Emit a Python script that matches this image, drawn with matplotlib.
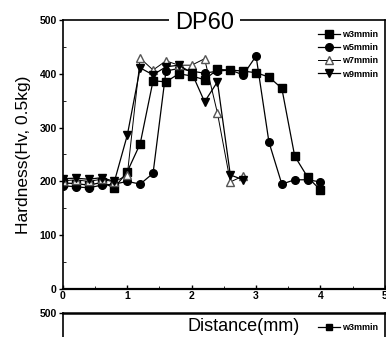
import matplotlib
matplotlib.use("Agg")
import matplotlib.pyplot as plt
from matplotlib.lines import Line2D

plt.rcParams["font.family"] = ["Liberation Sans", "DejaVu Sans"]

# distance along the weld (mm)
distance = [0.0, 0.2, 0.4, 0.6, 0.8, 1.0, 1.2, 1.4, 1.6, 1.8, 2.0,
            2.2, 2.4, 2.6, 2.8, 3.0, 3.2, 3.4, 3.6, 3.8, 4.0]
w3_hv = [197, 196, 193, 198, 188, 218, 270, 387, 385, 400, 396,
         389, 408, 407, 405, 402, 394, 373, 247, 208, 184]

distance_w5 = [0.0, 0.2, 0.4, 0.6, 0.8, 1.0, 1.2, 1.4, 1.6, 1.8, 2.0,
               2.2, 2.4, 2.6, 2.8, 3.0, 3.2, 3.4, 3.6, 3.8, 4.0]
w5_hv = [192, 190, 188, 193, 195, 200, 195, 215, 405, 410, 405,
         401, 405, 407, 398, 433, 273, 195, 203, 203, 199]

distance_w7 = [0.0, 0.2, 0.4, 0.6, 0.8, 1.0, 1.2, 1.4, 1.6, 1.8, 2.0,
               2.2, 2.4, 2.6, 2.8]
w7_hv = [201, 203, 200, 204, 199, 212, 429, 407, 424, 416, 416,
         428, 327, 199, 210]

distance_w9 = [0.0, 0.2, 0.4, 0.6, 0.8, 1.0, 1.2, 1.4, 1.6, 1.8, 2.0,
               2.2, 2.4, 2.6, 2.8]
w9_hv = [205, 206, 204, 207, 200, 286, 411, 398, 413, 416, 402,
         348, 385, 212, 203]

x_ticks = [0, 1, 2, 3, 4, 5]
y_ticks = [0, 100, 200, 300, 400, 500]

fig = plt.figure(figsize=(3.86, 3.37), dpi=100)

ax = fig.add_axes([0.163, 0.1424, 0.834, 0.7983])
ax.plot(distance, w3_hv, color="black", linewidth=0.9, marker="s",
        markersize=5.5, label="w3mmin")
ax.plot(distance_w5, w5_hv, color="black", linewidth=0.9, marker="o",
        markersize=5.5, label="w5mmin")
ax.plot(distance_w7, w7_hv, color="black", linewidth=0.7, marker="^",
        markersize=5.5, markerfacecolor="white", markeredgecolor="#555555",
        label="w7mmin")
ax.plot(distance_w9, w9_hv, color="black", linewidth=0.9, marker="v",
        markersize=5.5, label="w9mmin")

ax.set_xlim(0, 5)
ax.set_ylim(0, 500)
ax.set_xticks(x_ticks)
ax.set_yticks(y_ticks)
ax.set_xticks([0.5, 1.5, 2.5, 3.5, 4.5], minor=True)
ax.set_yticks([50, 150, 250, 350, 450], minor=True)
ax.tick_params(axis="both", which="major", labelsize=7.5, length=3,
               width=1, pad=1.5)
ax.tick_params(axis="x", which="both", direction="in")
ax.tick_params(axis="y", which="major", direction="out")
ax.tick_params(axis="y", which="minor", direction="in", length=2)
for label in ax.get_xticklabels() + ax.get_yticklabels():
    label.set_fontweight("bold")
for spine in ax.spines.values():
    spine.set_linewidth(1.2)
ax.spines["bottom"].set_linewidth(1.6)

ax.set_ylabel("Hardness(Hv, 0.5kg)", fontsize=12.5, labelpad=6)

ax.text(0.44, 0.99, "DP60", transform=ax.transAxes, fontsize=17,
        ha="center", va="center",
        bbox=dict(facecolor="white", edgecolor="none", pad=4))

legend = ax.legend(loc="upper right", bbox_to_anchor=(1.0, 0.985),
                   frameon=False, fontsize=6.5, handlelength=2.4,
                   handletextpad=0.3, labelspacing=0.45, borderaxespad=0.3)
for text in legend.get_texts():
    text.set_fontweight("bold")

# top edge of the next panel, cut off by the page
ax2 = fig.add_axes([0.163, -0.6, 0.834, 0.6712])
ax2.set_xlim(0, 5)
ax2.set_ylim(0, 500)
ax2.set_xticks([])
ax2.set_yticks([500])
ax2.tick_params(axis="y", labelsize=7.5, length=3, width=1, pad=1.5)
for label in ax2.get_yticklabels():
    label.set_fontweight("bold")
for spine in ax2.spines.values():
    spine.set_linewidth(1.2)
ax2.spines["top"].set_linewidth(1.8)
handle = Line2D([], [], color="black", linewidth=0.9, marker="s",
                markersize=4)
legend2 = ax2.legend([handle], ["w3mmin"], loc="upper right",
                     bbox_to_anchor=(1.0, 0.985), frameon=False,
                     fontsize=6.5, handlelength=2.4, handletextpad=0.3,
                     borderaxespad=0.3)
for text in legend2.get_texts():
    text.set_fontweight("bold")

fig.text(0.63, 0.03, "Distance(mm)", fontsize=13, ha="center",
         va="center")

fig.savefig("out.png", dpi=100)
